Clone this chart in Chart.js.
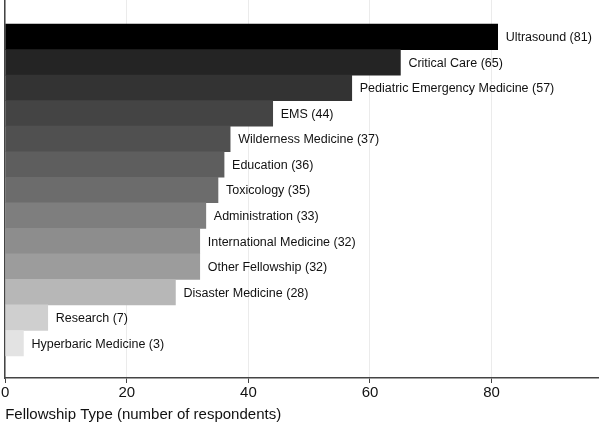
<!DOCTYPE html>
<html>
<head>
<meta charset="utf-8">
<script src="https://cdn.jsdelivr.net/npm/chart.js@4"></script>
<style>
html,body{margin:0;padding:0;background:#fff;}
#wrap{width:600px;height:429px;position:relative;}
</style>
</head>
<body>
<div id="wrap"><canvas id="c"></canvas></div>
<script>
const categories = ["Ultrasound","Critical Care","Pediatric Emergency Medicine","EMS","Wilderness Medicine","Education","Toxicology","Administration","International Medicine","Other Fellowship","Disaster Medicine","Research","Hyperbaric Medicine"];
const respondents = [81,65,57,44,37,36,35,33,32,32,28,7,3];
const barColors = ["#000000","#242424","#333333","#444444","#505050","#5e5e5e","#6c6c6c","#7e7e7e","#8d8d8d","#9c9c9c","#b7b7b7","#cfcfcf","#e3e3e3"];
const xTicks = [0,20,40,60,80];

const points = respondents.map((v,i)=>({x:v,y:i}));

const labelPlugin = {
  id:'barLabels',
  afterDatasetsDraw(chart){
    const ctx = chart.ctx;
    const meta = chart.getDatasetMeta(0);
    ctx.save();
    ctx.font = '12.5px "Liberation Sans", Arial, sans-serif';
    ctx.fillStyle = '#111';
    ctx.textBaseline = 'middle';
    ctx.textAlign = 'left';
    meta.data.forEach((bar,i)=>{
      ctx.fillText(categories[i] + ' (' + respondents[i] + ')', bar.x + 8, bar.y + 1);
    });
    ctx.restore();
  }
};

new Chart(document.getElementById('c'), {
  type:'bar',
  data:{
    datasets:[{
      data:points,
      backgroundColor:barColors,
      borderWidth:0,
      barPercentage:1,
      categoryPercentage:1
    }]
  },
  options:{
    indexAxis:'y',
    responsive:true,
    maintainAspectRatio:false,
    animation:false,
    layout:{padding:{left:5,right:2,top:0,bottom:5}},
    plugins:{legend:{display:false},tooltip:{enabled:false}},
    scales:{
      x:{
        type:'linear',
        min:0,max:97.5,
        afterBuildTicks(scale){ scale.ticks = xTicks.map(v=>({value:v})); },
        grid:{color:'#ebebeb',lineWidth:1,tickLength:5,tickColor:'#444'},
        border:{display:true,color:'#444',width:1.5},
        ticks:{color:'#111',font:{family:'"Liberation Sans", Arial, sans-serif',size:15},padding:1,maxRotation:0},
        title:{display:true,align:'start',text:'Fellowship Type (number of respondents)',color:'#111',
          font:{family:'"Liberation Sans", Arial, sans-serif',size:15},padding:{top:3,bottom:0}}
      },
      y:{
        type:'linear',
        reverse:true,
        offset:false,
        min:-1.44,max:13.36,
        grid:{display:false,drawTicks:false,offset:false},
        border:{display:true,color:'#444',width:1.5},
        ticks:{display:false}
      }
    }
  },
  plugins:[labelPlugin]
});
</script>
</body>
</html>
